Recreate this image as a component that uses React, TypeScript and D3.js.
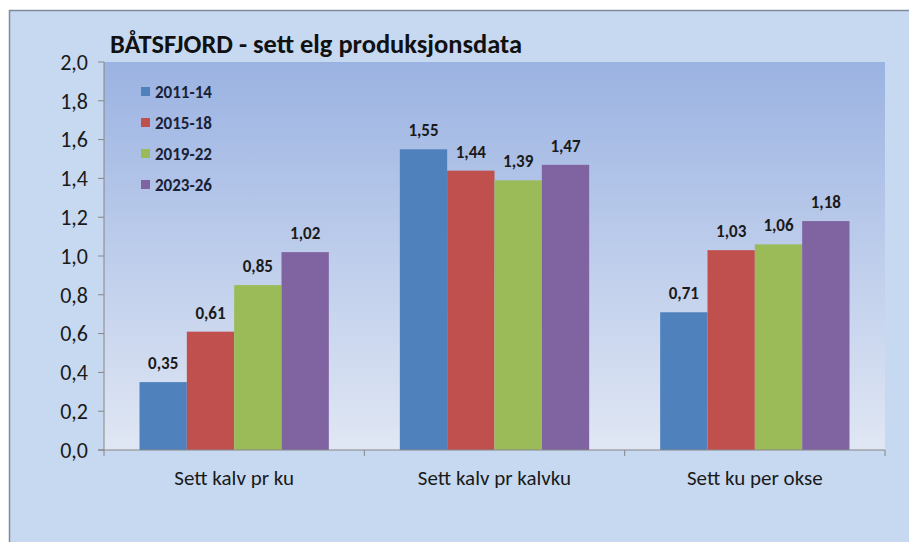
import React from "react";
import * as d3 from "d3";

const categories = ["Sett kalv pr ku", "Sett kalv pr kalvku", "Sett ku per okse"];
const seriesNames = ["2011-14", "2015-18", "2019-22", "2023-26"];
const seriesValues = [
  [0.35, 1.55, 0.71],
  [0.61, 1.44, 1.03],
  [0.85, 1.39, 1.06],
  [1.02, 1.47, 1.18],
];
const colors = ["#4f81bd", "#c0504d", "#9bbb59", "#8064a2"];
const yTicks = [0, 0.2, 0.4, 0.6, 0.8, 1.0, 1.2, 1.4, 1.6, 1.8, 2.0];
const title = "BÅTSFJORD - sett elg produksjonsdata";

const W = 909;
const H = 542;
const plot = { left: 104, right: 885, top: 62, bottom: 450 };
const font = "Carlito, Calibri, 'Open Sans', sans-serif";
const fmt = (v: number) => v.toFixed(2).replace(".", ",");
const fmt1 = (v: number) => v.toFixed(1).replace(".", ",");

export default function App() {
  const y = d3.scaleLinear().domain([0, 2]).range([plot.bottom, plot.top]);
  const x0 = d3
    .scaleBand<string>()
    .domain(categories)
    .range([plot.left, plot.right])
    .paddingInner(1.5 / 5.5)
    .paddingOuter(0.75 / 5.5);
  const x1 = d3
    .scaleBand<string>()
    .domain(seriesNames)
    .range([0, x0.bandwidth()]);
  const step = (plot.right - plot.left) / categories.length;
  const catTicks = d3.range(categories.length + 1).map((i) => plot.left + i * step);

  return (
    <svg width={W} height={H} style={{ position: "absolute", left: 0, top: 0 }}>
      <defs>
        <linearGradient id="plotGrad" x1="0" y1="0" x2="0" y2="1">
          <stop offset="0" stopColor="#9bb3e2" />
          <stop offset="1" stopColor="#e0e7f4" />
        </linearGradient>
      </defs>
      <rect x={0} y={0} width={W} height={H} fill="#ffffff" />
      <rect x={9.5} y={10.5} width={W} height={H} fill="#c6d9f1" stroke="#7f8a9c" strokeWidth={1.5} />
      <rect
        x={plot.left}
        y={plot.top}
        width={plot.right - plot.left}
        height={plot.bottom - plot.top}
        fill="url(#plotGrad)"
      />
      <text
        x={110}
        y={53}
        fontFamily={font}
        fontWeight="bold"
        fontSize={27}
        fill="#111"
        textLength={412}
        lengthAdjust="spacingAndGlyphs"
      >
        {title}
      </text>
      {/* y axis */}
      <line x1={plot.left} x2={plot.left} y1={plot.top} y2={plot.bottom} stroke="#868686" />
      {yTicks.map((t) => (
        <g key={t}>
          <line x1={plot.left - 6} x2={plot.left} y1={y(t)} y2={y(t)} stroke="#868686" />
          <text
            x={88}
            y={y(t)}
            dy="0.35em"
            textAnchor="end"
            fontFamily={font}
            fontSize={22}
            fill="#1a1a1a"
          >
            {fmt1(t)}
          </text>
        </g>
      ))}
      {/* bars */}
      {seriesNames.map((s, si) =>
        categories.map((c, ci) => {
          const v = seriesValues[si][ci];
          const bx = (x0(c) as number) + (x1(s) as number);
          return (
            <g key={s + c}>
              <rect
                x={bx}
                y={y(v)}
                width={x1.bandwidth()}
                height={plot.bottom - y(v)}
                fill={colors[si]}
              />
              <text
                x={bx + x1.bandwidth() / 2}
                y={y(v) - 13}
                textAnchor="middle"
                fontFamily={font}
                fontWeight="bold"
                fontSize={17}
                fill="#1a1a1a"
              >
                {fmt(v)}
              </text>
            </g>
          );
        })
      )}
      {/* x axis */}
      <line x1={plot.left - 6} x2={plot.right} y1={plot.bottom} y2={plot.bottom} stroke="#868686" />
      {catTicks.map((t, i) => (
        <line key={i} x1={t} x2={t} y1={plot.bottom} y2={plot.bottom + 6} stroke="#868686" />
      ))}
      {categories.map((c) => (
        <text
          key={c}
          x={(x0(c) as number) + x0.bandwidth() / 2}
          y={485}
          textAnchor="middle"
          fontFamily={font}
          fontSize={21}
          fill="#1a1a1a"
        >
          {c}
        </text>
      ))}
      {/* legend */}
      {seriesNames.map((s, i) => (
        <g key={s} transform={`translate(141, ${92 + i * 31})`}>
          <rect x={0} y={-5} width={9} height={9} fill={colors[i]} />
          <text x={14} y={0} dy="0.35em" fontFamily={font} fontWeight="bold" fontSize={17} fill="#1a2238">
            {s}
          </text>
        </g>
      ))}
    </svg>
  );
}
